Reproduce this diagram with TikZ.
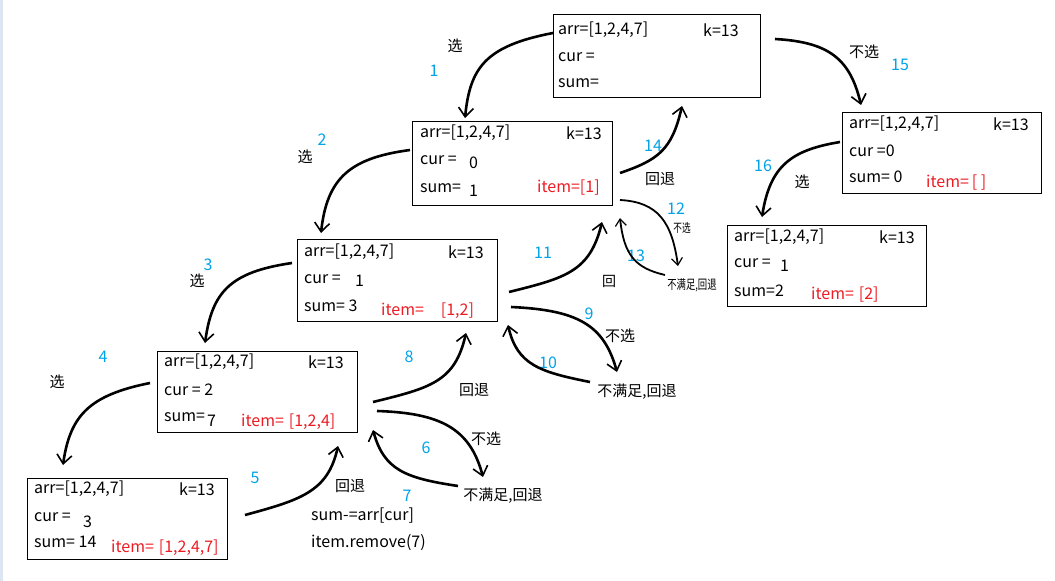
\documentclass[tikz,border=0pt]{standalone}
\usepackage{fontspec}
\setmainfont{Noto Sans CJK SC}
\usetikzlibrary{arrows.meta}
\definecolor{stepblue}{RGB}{0,162,232}
\definecolor{itemred}{RGB}{237,28,36}
\definecolor{edgeblue}{RGB}{220,230,242}

\begin{document}
\begin{tikzpicture}[x=1pt, y=-1pt, font=\fontsize{15}{18}\selectfont]
    % Styles
    \tikzstyle{state} = [rectangle, draw, line width=1pt, anchor=north west, inner sep=0pt]
    \tikzstyle{row} = [anchor=west, inner sep=0pt, font=\fontsize{16}{19}\selectfont]
    \tikzstyle{itemrow} = [row, text=itemred]
    \tikzstyle{stepno} = [inner sep=0pt, text=stepblue, font=\fontsize{16}{19}\selectfont]
    \tikzstyle{act} = [inner sep=0pt]
    \tikzstyle{tinyact} = [inner sep=0pt, font=\fontsize{12}{14}\selectfont, xscale=0.72]
    \tikzstyle{move} = [line width=2.6pt, -{Straight Barb[length=9pt, width=15pt, line width=1.6pt]}]
    \tikzstyle{thinmove} = [line width=1.8pt, -{Straight Barb[length=7pt, width=11pt, line width=1.2pt]}]

    % Canvas
    \path [use as bounding box, fill=white] (0,0) rectangle (1055,581);
    \fill [edgeblue] (0,0) rectangle (3,581);

    % State boxes
    \node [state, minimum width=207pt, minimum height=83pt] (root) at (553,14) {};
    \node [state, minimum width=200pt, minimum height=84pt] (pick1) at (412,121) {};
    \node [state, minimum width=200pt, minimum height=82pt] (pick12) at (297,239) {};
    \node [state, minimum width=200pt, minimum height=81pt] (pick124) at (157,351) {};
    \node [state, minimum width=200pt, minimum height=81pt] (pick1247) at (27,478) {};
    \node [state, minimum width=199pt, minimum height=81pt] (skip1) at (842,112) {};
    \node [state, minimum width=199pt, minimum height=81pt] (pick2) at (727,225) {};

    % Box texts
    \node [row] (root-arr) at (558,30) {arr=[1,2,4,7]};
    \node [row] (root-k) at (703,30) {k=13};
    \node [row] (root-cur) at (558,57) {cur =};
    \node [row] (root-sum) at (558,83) {sum=};

    \node [row] (pick1-arr) at (420,133) {arr=[1,2,4,7]};
    \node [row] (pick1-k) at (566,133) {k=13};
    \node [row] (pick1-cur) at (420,160) {cur =};
    \node [row] (pick1-curv) at (469,163) {0};
    \node [row] (pick1-sum) at (420,188) {sum=};
    \node [row] (pick1-sumv) at (469,191) {1};
    \node [itemrow] (pick1-item) at (537,188) {item=[1]};

    \node [row] (pick12-arr) at (304,252) {arr=[1,2,4,7]};
    \node [row] (pick12-k) at (448,252) {k=13};
    \node [row] (pick12-cur) at (304,279) {cur =};
    \node [row] (pick12-curv) at (355,281) {1};
    \node [row] (pick12-sum) at (304,306) {sum= 3};
    \node [itemrow] (pick12-item) at (381,311) {item=\hspace{17pt}[1,2]};

    \node [row] (pick124-arr) at (164,362) {arr=[1,2,4,7]};
    \node [row] (pick124-k) at (308,362) {k=13};
    \node [row] (pick124-cur) at (164,390) {cur = 2};
    \node [row] (pick124-sum) at (164,417) {sum=};
    \node [row] (pick124-sumv) at (207,421) {7};
    \node [itemrow] (pick124-item) at (241,422) {item=\hspace{5pt}[1,2,4]};

    \node [row] (pick1247-arr) at (34,489) {arr=[1,2,4,7]};
    \node [row] (pick1247-k) at (179,489) {k=13};
    \node [row] (pick1247-cur) at (34,517) {cur =};
    \node [row] (pick1247-curv) at (83,522) {3};
    \node [row] (pick1247-sum) at (34,542) {sum= 14};
    \node [itemrow] (pick1247-item) at (111,548) {item=\hspace{5pt}[1,2,4,7]};

    \node [row] (skip1-arr) at (849,124) {arr=[1,2,4,7]};
    \node [row] (skip1-k) at (993,124) {k=13};
    \node [row] (skip1-cur) at (849,151) {cur =0};
    \node [row] (skip1-sum) at (849,177) {sum= 0};
    \node [itemrow] (skip1-item) at (926,183) {item=\hspace{3pt}[ ]};

    \node [row] (pick2-arr) at (734,237) {arr=[1,2,4,7]};
    \node [row] (pick2-k) at (879,237) {k=13};
    \node [row] (pick2-cur) at (734,263) {cur =};
    \node [row] (pick2-curv) at (780,266) {1};
    \node [row] (pick2-sum) at (734,291) {sum=2};
    \node [itemrow] (pick2-item) at (811,295) {item=\hspace{5pt}[2]};

    % Step labels
    \node [act] (sel1) at (455,46) {选};
    \node [stepno] (n1) at (434,71) {1};
    \node [act] (sel2) at (305,157) {选};
    \node [stepno] (n2) at (322,140) {2};
    \node [act] (sel3) at (197,281) {选};
    \node [stepno] (n3) at (208,265) {3};
    \node [act] (sel4) at (57,382) {选};
    \node [stepno] (n4) at (103,357) {4};
    \node [stepno] (n5) at (255,478) {5};
    \node [act] (back5) at (350,486) {回退};
    \node [row] (undo-sum) at (311,516) {sum-=arr[cur]};
    \node [row] (undo-item) at (311,543) {item.remove(7)};
    \node [stepno] (n6) at (426,448) {6};
    \node [act] (skip6) at (486,439) {不选};
    \node [stepno] (n7) at (407,496) {7};
    \node [act] (fail7) at (503,496) {不满足,回退};
    \node [stepno] (n8) at (409,357) {8};
    \node [act] (back8) at (474,390) {回退};
    \node [stepno] (n9) at (589,314) {9};
    \node [act] (skip9) at (620,336) {不选};
    \node [stepno] (n10) at (548,363) {10};
    \node [act] (fail10) at (637,392) {不满足,回退};
    \node [stepno] (n11) at (543,253) {11};
    \node [act, font=\fontsize{14}{16}\selectfont] (back11) at (609,281) {回};
    \node [stepno] (n12) at (676,209) {12};
    \node [tinyact] (skip12) at (682,228) {不选};
    \node [stepno] (n13) at (636,256) {13};
    \node [tinyact, font=\fontsize{13}{15}\selectfont] (fail13) at (692,285) {不满足,回退};
    \node [stepno] (n14) at (653,146) {14};
    \node [act] (back14) at (660,179) {回退};
    \node [act] (skip15) at (864,52) {不选};
    \node [stepno] (n15) at (900,65) {15};
    \node [stepno] (n16) at (763,166) {16};
    \node [act] (sel16) at (802,182) {选};

    % Arrow ends
    \coordinate (a1s) at (553,33);   \coordinate (a1e) at (465,118);
    \coordinate (a2s) at (410,150);  \coordinate (a2e) at (321,233);
    \coordinate (a3s) at (292,263);  \coordinate (a3e) at (205,343);
    \coordinate (a4s) at (150,383);  \coordinate (a4e) at (63,465);
    \coordinate (a5s) at (245,515);  \coordinate (a5e) at (338,446);
    \coordinate (a6s) at (377,411);  \coordinate (a6e) at (483,477);
    \coordinate (a7s) at (458,486);  \coordinate (a7e) at (373,430);
    \coordinate (a8s) at (373,402);  \coordinate (a8e) at (466,333);
    \coordinate (a9s) at (511,307);  \coordinate (a9e) at (617,372);
    \coordinate (a10s) at (590,382); \coordinate (a10e) at (508,325);
    \coordinate (a11s) at (509,292); \coordinate (a11e) at (602,222);
    \coordinate (a12s) at (620,200); \coordinate (a12e) at (678,266);
    \coordinate (a13s) at (665,275); \coordinate (a13e) at (620,218);
    \coordinate (a14s) at (620,173); \coordinate (a14e) at (682,106);
    \coordinate (a15s) at (775,39);  \coordinate (a15e) at (861,105);
    \coordinate (a16s) at (840,142); \coordinate (a16e) at (762,217);

    % Arrows
    \draw [move] (a1s) .. controls (485,46) and (470,68) .. (a1e);
    \draw [move] (a2s) .. controls (350,158) and (327,178) .. (a2e);
    \draw [move] (a3s) .. controls (230,272) and (212,292) .. (a3e);
    \draw [move] (a4s) .. controls (90,395) and (70,415) .. (a4e);
    \draw [move] (a5s) .. controls (300,500) and (328,492) .. (a5e);
    \draw [move] (a6s) .. controls (440,413) and (470,428) .. (a6e);
    \draw [move] (a7s) .. controls (405,478) and (384,470) .. (a7e);
    \draw [move] (a8s) .. controls (430,388) and (455,382) .. (a8e);
    \draw [move] (a9s) .. controls (578,310) and (604,325) .. (a9e);
    \draw [move] (a10s) .. controls (540,372) and (517,365) .. (a10e);
    \draw [move] (a11s) .. controls (565,278) and (590,272) .. (a11e);
    \draw [thinmove] (a12s) .. controls (658,202) and (672,222) .. (a12e);
    \draw [thinmove] (a13s) .. controls (635,268) and (624,255) .. (a13e);
    \draw [move] (a14s) .. controls (658,160) and (672,150) .. (a14e);
    \draw [move] (a15s) .. controls (828,42) and (850,58) .. (a15e);
    \draw [move] (a16s) .. controls (792,150) and (770,165) .. (a16e);
\end{tikzpicture}
\end{document}
